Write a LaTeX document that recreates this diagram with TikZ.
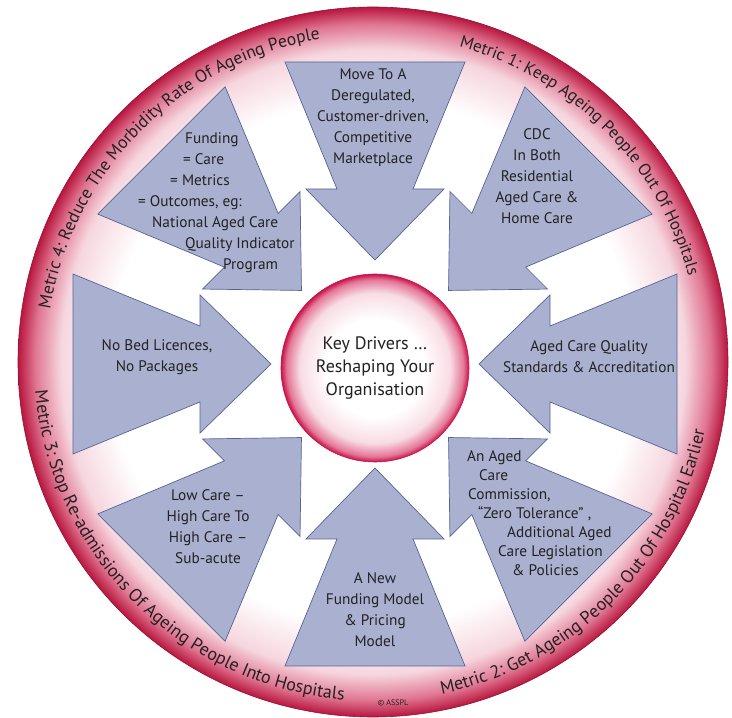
\documentclass[tikz,border=0pt]{standalone}
\usepackage{fontspec}
\setmainfont{PT Sans}
\usetikzlibrary{calc,decorations.text}

\definecolor{ringred}{RGB}{184,22,62}
\definecolor{ringmid}{RGB}{224,118,146}
\definecolor{ringpink}{RGB}{246,214,222}
\definecolor{hubred}{RGB}{200,18,72}
\definecolor{hubmid}{RGB}{228,120,152}
\definecolor{hubpink}{RGB}{248,220,228}
\definecolor{blockfill}{RGB}{170,177,208}
\definecolor{blockline}{RGB}{86,100,152}
\definecolor{textgrey}{RGB}{34,34,34}

\pgfdeclareradialshading{ringshade}{\pgfpoint{0bp}{0bp}}{color(0bp)=(white); color(18.5bp)=(white); color(22bp)=(ringpink); color(23.8bp)=(ringmid); color(25bp)=(ringred); color(50bp)=(ringred)}
\pgfdeclareradialshading{hubshade}{\pgfpoint{0bp}{0bp}}{color(0bp)=(white); color(13bp)=(white); color(20bp)=(hubpink); color(23.5bp)=(hubmid); color(25bp)=(hubred); color(50bp)=(hubred)}

\newcommand{\ringfont}[1]{\fontsize{#1}{#1}\selectfont}

\begin{document}
\begin{tikzpicture}[x=1pt,y=1pt,
    block/.style={fill=blockfill,draw=blockline,line width=0.7pt,line join=miter},
    blocktext/.style={text=textgrey,font=\fontsize{15.3}{21}\selectfont,align=center,inner sep=0pt},
    hub/.style={circle,minimum size=188pt,inner sep=0pt,shade,shading=hubshade,draw=hubred,line width=0.6pt,
      text=textgrey,font=\fontsize{18}{23}\selectfont,align=center},
    ringlabel/.style={decorate,decoration={text along path,text align=center,text color=textgrey}}]
  \useasboundingbox (0,0) rectangle (732,718);
  \fill[white] (0,0) rectangle (732,718);
  \coordinate (O) at (373,356);
  \coordinate (A) at (375,354);
  % outer ring
  \shade[shading=ringshade] (O) circle[radius=355];
  \draw[ringred!80!black,line width=0.6pt] (O) circle[radius=355];
  % metrics round the ring
  \path[ringlabel,decoration={text={|\ringfont{17}|Metric 1: Keep Ageing People Out Of Hospitals}}]
    ($(O)+(110:327)$) arc[start angle=110,end angle=-20,radius=327];
  \path[ringlabel,decoration={text={|\ringfont{18}|Metric 2: Get Ageing People Out Of Hospital Earlier}}]
    ($(O)+(-110:339)$) arc[start angle=-110,end angle=20,radius=339];
  \path[ringlabel,decoration={text={|\ringfont{18}|Metric 3: Stop Re-admissions Of Ageing People Into Hospitals}}]
    ($(O)+(160:339)$) arc[start angle=160,end angle=290,radius=339];
  \path[ringlabel,decoration={text={|\ringfont{17.5}|Metric 4: Reduce The Morbidity Rate Of Ageing People}}]
    ($(O)+(200:327)$) arc[start angle=200,end angle=70,radius=327];
  % eight block arrows
  \foreach \a in {0,45,...,315}
    \draw[block,shift={(A)},rotate=\a] (302,90) -- (175,38) -- (175,69) -- (104,0)
      -- (175,-69) -- (175,-38) -- (302,-90) -- cycle;
  % centre
  \node[hub] (hub) at (375,350) {Key Drivers \ldots\\Reshaping Your\\Organisation};
  % drivers
  \node[blocktext] (market) at (373,600) {Move To A\\Deregulated,\\Customer-driven,\\Competitive\\Marketplace};
  \node[blocktext] (cdc) at (537,542) {CDC\\In Both\\Residential\\Aged Care \&\\Home Care};
  \node[blocktext] (quality) at (589,361) {Aged Care Quality\\Standards \& Accreditation};
  \node[blocktext,align=left,anchor=west,font=\fontsize{15.3}{19}\selectfont] (commission) at (467,205)
    {An Aged\\\hspace*{12pt}Care\\\hspace*{1pt}Commission,\\\hspace*{11pt}``Zero Tolerance'' ,\\
     \hspace*{40pt}Additional Aged\\\hspace*{31pt}Care Legislation\\\hspace*{45pt}\& Policies};
  \node[blocktext] (pricing) at (375,108) {A New\\Funding Model\\\& Pricing\\Model};
  \node[blocktext] (lowcare) at (208,191) {Low Care --\\High Care To\\High Care --\\Sub-acute};
  \node[blocktext] (licences) at (157,361) {No Bed Licences,\\No Packages};
  \node[blocktext,align=left,anchor=west] (metrics) at (138,515)
    {\hspace*{47pt}Funding\\\hspace*{45pt}= Care\\\hspace*{32pt}= Metrics\\= Outcomes, eg:\\
     \hspace*{14pt}National Aged Care\\\hspace*{47pt}Quality Indicator\\\hspace*{85pt}Program};
  \node[text=textgrey,font=\fontsize{8}{8}\selectfont] (copy) at (393,15) {\textcopyright{} ASSPL};
\end{tikzpicture}
\end{document}
